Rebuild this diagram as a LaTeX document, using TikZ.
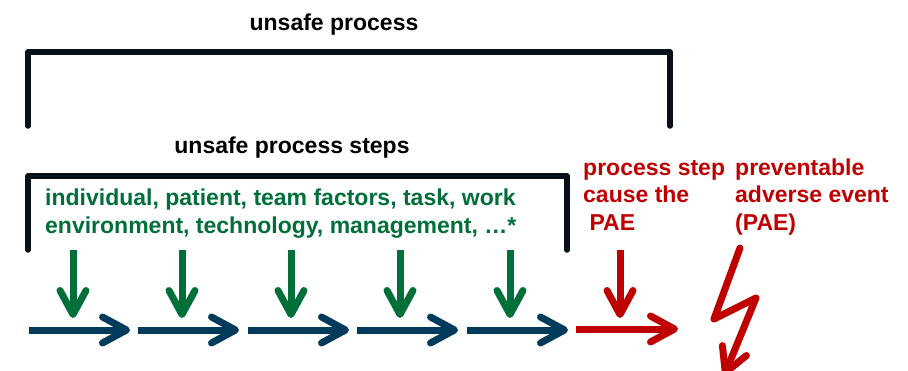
\documentclass[tikz,border=0pt]{standalone}
\usepackage{fontspec}
\setmainfont{Liberation Sans}
\usetikzlibrary{arrows.meta}
\definecolor{brk}{HTML}{08111A}
\definecolor{flowblue}{HTML}{003B5C}
\definecolor{factgreen}{HTML}{006F3A}
\definecolor{paered}{HTML}{C00000}
\tikzset{
  bracket/.style={draw=brk, line width=5.5pt, line cap=round, line join=round},
  label/.style={inner sep=0pt, font=\fontsize{23}{27.5}\selectfont\bfseries, align=left},
  chev/.style={-{Straight Barb[length=24pt,width=26pt,round]}, line width=7pt},
  stepflow/.style={chev, draw=flowblue},
  factor/.style={chev, draw=factgreen},
  causeflow/.style={chev, draw=paered},
}
\begin{document}
\begin{tikzpicture}[x=1pt,y=-1pt]
\useasboundingbox (0,0) rectangle (908,370);
\clip (0,0) rectangle (908,370);

% titles
\node[label, anchor=base] (tproc) at (334,30) {unsafe process};
\node[label, anchor=base] (tsteps) at (292,153) {unsafe process steps};

% brackets
\coordinate (b1a) at (28,126);
\coordinate (b1b) at (28,52);
\coordinate (b1c) at (670,52);
\coordinate (b1d) at (670,126);
\draw[bracket] (b1a) -- (b1b) -- (b1c) -- (b1d);
\coordinate (b2a) at (28,250);
\coordinate (b2b) at (28,176);
\coordinate (b2c) at (567,176);
\coordinate (b2d) at (567,250);
\draw[bracket] (b2a) -- (b2b) -- (b2c) -- (b2d);

% contributing factors (anchored on the last line's baseline)
\node[label, anchor=base west, text=factgreen] (factors) at (45,233)
  {individual, patient, team factors, task, work\\environment, technology, management, …*};

% red labels
\node[label, anchor=base west, text=paered] (cause) at (583,230)
  {process step\\cause the\\\hspace*{6.4pt}PAE};
\node[label, anchor=base west, text=paered] (pae) at (735,230)
  {preventable\\adverse event\\(PAE)};

% process step arrows
\foreach \i/\xs in {1/29,2/138,3/248,4/357,5/467}{
  \coordinate (s\i) at (\xs,330);
  \coordinate (e\i) at (\xs+101,330);
  \draw[stepflow] (s\i) -- (e\i);
}
\coordinate (s6) at (576,329);
\coordinate (e6) at (678,329);
\draw[causeflow] (s6) -- (e6);

% factor arrows
\foreach \i/\xs in {1/73,2/182,3/291,4/400,5/510}{
  \coordinate (f\i) at (\xs,250);
  \coordinate (g\i) at (\xs,318);
  \draw[factor] (f\i) -- (g\i);
}
\coordinate (f6) at (620,250);
\coordinate (g6) at (620,318);
\draw[causeflow] (f6) -- (g6);

% lightning bolt
\coordinate (l1) at (740,248);
\coordinate (l2) at (714,319);
\coordinate (l3) at (756,298);
\coordinate (l4) at (724,376);
\draw[causeflow, line join=round, line cap=round] (l1) -- (l2) -- (l3) -- (l4);
\end{tikzpicture}
\end{document}
